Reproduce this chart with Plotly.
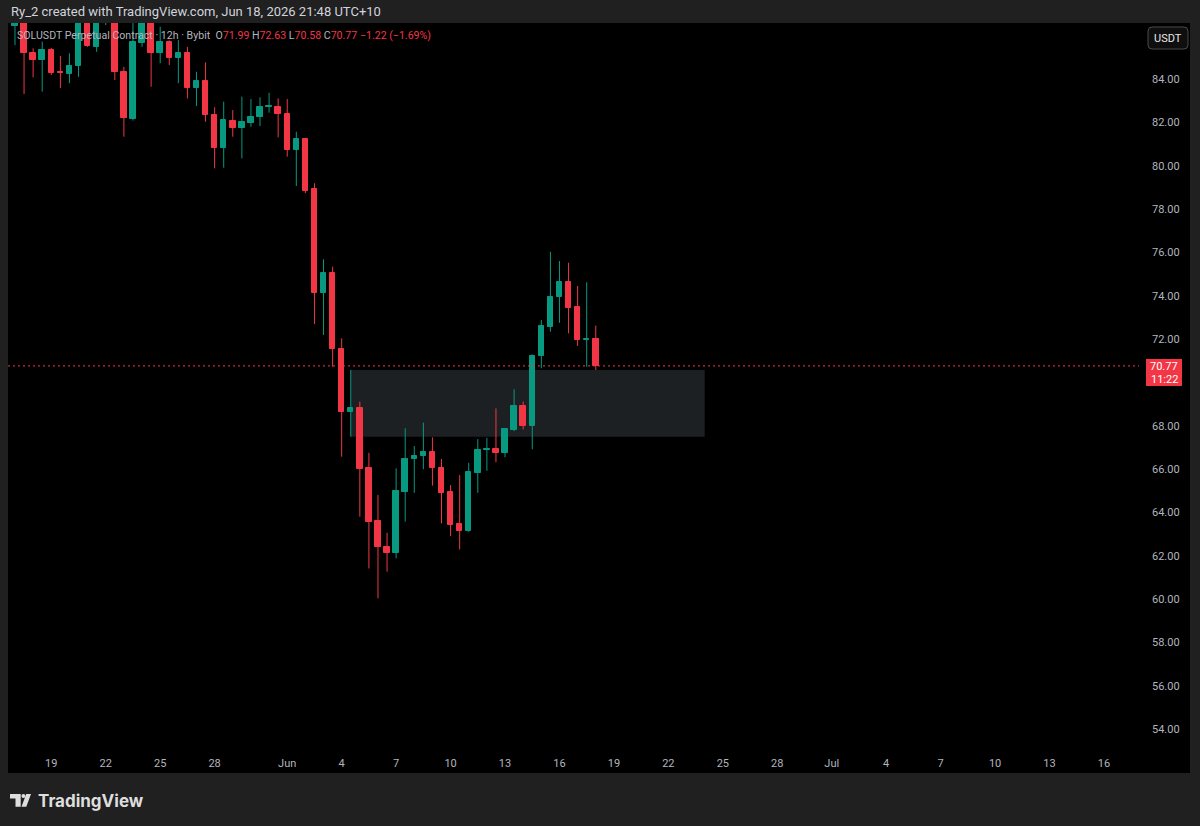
import plotly.graph_objects as go
import pandas as pd

# ---------------- data ----------------
first_bar = "2026-05-17 10:00"   # 12h bars (local time UTC+10)
bar_hours = 12

opens = [86.45, 87.20, 85.20, 84.89, 85.35, 84.35, 84.25, 84.61, 86.90, 85.50,
         87.40, 87.80, 84.35, 82.17, 85.66, 87.00, 85.20, 85.74, 84.97, 85.20,
         83.61, 83.92, 82.35, 80.81, 82.09, 81.74, 82.00, 82.27, 82.71, 82.71,
         82.40, 80.74, 81.23, 78.92, 74.15, 75.07, 71.55, 68.63, 68.81, 66.04,
         63.61, 62.42, 62.14, 64.96, 66.46, 66.61, 66.78, 66.07, 64.96, 63.45,
         63.15, 65.84, 66.90, 66.92, 66.76, 67.81, 68.92, 68.01, 71.24, 72.55,
         73.94, 74.66, 73.47, 71.96, 71.99]
highs = [87.30, 87.60, 85.43, 85.74, 85.45, 85.08, 85.20, 87.30, 87.20, 87.80,
         88.20, 88.00, 84.58, 86.90, 87.50, 87.30, 86.43, 85.80, 85.81, 85.50,
         84.35, 84.78, 82.71, 82.97, 82.58, 83.20, 83.09, 83.17, 83.38, 83.12,
         83.09, 81.58, 81.30, 79.20, 75.69, 75.35, 72.04, 70.58, 69.12, 66.76,
         64.81, 63.07, 66.04, 67.89, 67.07, 68.15, 67.47, 66.47, 65.27, 65.73,
         66.30, 67.39, 67.45, 68.81, 67.90, 69.69, 69.12, 71.30, 72.89, 76.04,
         75.61, 75.53, 74.46, 74.63, 72.63]
lows = [85.58, 83.32, 84.09, 83.43, 84.20, 83.60, 83.82, 84.12, 85.50, 85.27,
        86.50, 83.97, 81.35, 82.10, 85.50, 83.66, 84.74, 84.66, 83.82, 83.12,
        82.77, 82.04, 79.89, 79.92, 81.35, 80.35, 81.81, 81.84, 82.46, 81.32,
        80.43, 79.07, 78.74, 72.70, 72.20, 70.73, 66.58, 67.50, 63.81, 61.42,
        60.04, 61.27, 61.88, 63.58, 64.91, 66.00, 65.24, 63.50, 62.91, 62.30,
        63.11, 64.91, 65.93, 66.32, 66.55, 67.76, 67.84, 66.92, 70.66, 72.35,
        72.76, 72.27, 71.69, 70.73, 70.58]
closes = [87.00, 85.20, 84.89, 85.35, 84.28, 84.28, 84.63, 86.90, 85.54, 87.40,
          87.80, 84.35, 82.20, 85.74, 87.00, 85.20, 85.74, 84.97, 85.20, 83.61,
          83.92, 82.35, 80.81, 82.12, 81.74, 82.02, 82.27, 82.71, 82.75, 82.40,
          80.74, 81.23, 78.86, 74.15, 75.04, 71.53, 68.65, 68.81, 65.99, 63.58,
          62.39, 62.14, 64.99, 66.46, 66.62, 66.78, 66.04, 64.91, 63.42, 63.15,
          65.86, 66.89, 66.95, 66.76, 67.86, 68.92, 68.00, 71.24, 72.61, 73.96,
          74.66, 73.46, 71.96, 71.99, 70.77]

tick_dates = ["2026-05-19 10:00", "2026-05-22 10:00", "2026-05-25 10:00", "2026-05-28 10:00",
              "2026-06-01 10:00", "2026-06-04 10:00", "2026-06-07 10:00", "2026-06-10 10:00",
              "2026-06-13 10:00", "2026-06-16 10:00", "2026-06-19 10:00", "2026-06-22 10:00",
              "2026-06-25 10:00", "2026-06-28 10:00", "2026-07-01 10:00", "2026-07-04 10:00",
              "2026-07-07 10:00", "2026-07-10 10:00", "2026-07-13 10:00", "2026-07-16 10:00"]
tick_labels = ["19", "22", "25", "28", "Jun", "4", "7", "10", "13", "16",
               "19", "22", "25", "28", "Jul", "4", "7", "10", "13", "16"]
# 70.00 is hidden behind the last-price label in the reference
price_ticks = [54, 56, 58, 60, 62, 64, 66, 68, 72, 74, 76, 78, 80, 82, 84]

zone_start = "2026-06-04 22:00"
zone_end = "2026-06-24 10:00"
zone_low = 67.50
zone_high = 70.58

last_price = 70.77
change = -1.22
change_pct = -1.69
countdown = "11:22"
header_text = "Ry_2 created with TradingView.com, Jun 18, 2026 21:48 UTC+10"

# ---------------- styling ----------------
UP = "#089981"
DOWN = "#f23645"
W, H = 1200, 826
PL, PR, PT, PB = 8, 1139, 23, 748  # plot area in pixels

def fx(px):
    return (px - PL) / (PR - PL)

def fy(py):
    return (PB - py) / (PB - PT)

times = pd.date_range(first_bar, periods=len(opens), freq=f"{bar_hours}h")
step = pd.Timedelta(hours=bar_hours)
colors = [UP if c >= o else DOWN for o, c in zip(opens, closes)]

fig = go.Figure()

# wicks
for col in (UP, DOWN):
    xs, ys = [], []
    for t, hi, lo, c in zip(times, highs, lows, colors):
        if c == col:
            xs += [t, t, None]
            ys += [lo, hi, None]
    fig.add_trace(go.Scatter(x=xs, y=ys, mode="lines",
                             line=dict(color=col, width=1),
                             hoverinfo="skip", showlegend=False))

# bodies
fig.add_trace(go.Bar(
    x=times,
    base=[min(o, c) for o, c in zip(opens, closes)],
    y=[abs(c - o) for o, c in zip(opens, closes)],
    width=step.total_seconds() * 1000 * 0.6,
    marker=dict(color=colors, line=dict(color=colors, width=1)),
    hoverinfo="skip", showlegend=False,
))

x_left = times[0] - step * 0.77
x_right = times[0] + step * 123.86

shapes = []
# black chart panel (includes price & time scales)
shapes.append(dict(type="rect", xref="paper", yref="paper",
                   x0=fx(8), x1=fx(1190), y0=fy(773), y1=fy(23),
                   fillcolor="#000000", line=dict(width=0), layer="below"))
# zone rectangle
shapes.append(dict(type="rect", xref="x", yref="y",
                   x0=zone_start, x1=zone_end, y0=zone_low, y1=zone_high,
                   fillcolor="#1d2023", line=dict(width=0), layer="below"))
# last price dotted line
shapes.append(dict(type="line", xref="paper", yref="y",
                   x0=0, x1=1, y0=last_price, y1=last_price,
                   line=dict(color=DOWN, width=1, dash="2px,3px"), layer="above"))
# last price label box
shapes.append(dict(type="rect", xref="paper", yref="paper",
                   x0=fx(1146), x1=fx(1182), y0=fy(386), y1=fy(359),
                   fillcolor=DOWN, line=dict(width=0), layer="above"))
# USDT button
shapes.append(dict(type="path", xref="paper", yref="paper",
                   path=("M {a},{b} L {c},{b} Q {d},{b} {d},{e} L {d},{f} Q {d},{g} {c},{g} "
                         "L {a},{g} Q {h},{g} {h},{f} L {h},{e} Q {h},{b} {a},{b} Z").format(
                       a=fx(1152), c=fx(1184), d=fx(1188), h=fx(1148),
                       b=fy(27), e=fy(31), f=fy(45), g=fy(49)),
                   fillcolor="#0f0f0f", line=dict(color="#4a4a4a", width=1), layer="above"))
# TradingView logo glyph
LOGO = "#dedede"
shapes.append(dict(type="path", xref="paper", yref="paper",
                   path=f"M {fx(10)},{fy(794)} L {fx(20.7)},{fy(794)} L {fx(20.7)},{fy(806.7)} "
                        f"L {fx(15.5)},{fy(806.7)} L {fx(15.5)},{fy(798.6)} L {fx(10)},{fy(798.6)} Z",
                   fillcolor=LOGO, line=dict(width=0), layer="above"))
shapes.append(dict(type="circle", xref="paper", yref="paper",
                   x0=fx(21.4), x1=fx(25.4), y0=fy(798), y1=fy(794),
                   fillcolor=LOGO, line=dict(width=0), layer="above"))
shapes.append(dict(type="path", xref="paper", yref="paper",
                   path=f"M {fx(26.2)},{fy(794)} L {fx(31)},{fy(794)} L {fx(26.3)},{fy(806.7)} "
                        f"L {fx(21.5)},{fy(806.7)} Z",
                   fillcolor=LOGO, line=dict(width=0), layer="above"))

FONT = "Roboto, 'Open Sans', sans-serif"
NARROW = "'Liberation Sans Narrow', Roboto, sans-serif"
RED = "#f23645"
legend_html = (
    "SOLUSDT Perpetual Contract · 12h · Bybit  "
    f"O<span style='color:{RED}'>{opens[-1]:.2f}</span> "
    f"H<span style='color:{RED}'>{highs[-1]:.2f}</span> "
    f"L<span style='color:{RED}'>{lows[-1]:.2f}</span> "
    f"C<span style='color:{RED}'>{closes[-1]:.2f}</span> "
    f"<span style='color:{RED}'>−{abs(change):.2f} (−{abs(change_pct):.2f}%)</span>"
)

annotations = [
    dict(text=header_text, xref="paper", yref="paper", x=fx(9), y=fy(12),
         xanchor="left", yanchor="middle", showarrow=False,
         font=dict(family=NARROW, size=13, color="#d1d4dc")),
    dict(text=legend_html, xref="paper", yref="paper", x=fx(15), y=fy(36),
         xanchor="left", yanchor="middle", showarrow=False,
         font=dict(family=FONT, size=10.6, color="#b2b5be")),
    dict(text=f"{last_price:.2f}", xref="paper", yref="paper",
         x=fx(1164), y=fy(366), xanchor="center", yanchor="middle",
         showarrow=False, font=dict(family=FONT, size=11, color="#ffffff")),
    dict(text=countdown, xref="paper", yref="paper",
         x=fx(1164), y=fy(379), xanchor="center", yanchor="middle",
         showarrow=False, font=dict(family=FONT, size=11, color="#ffffff")),
    dict(text="USDT", xref="paper", yref="paper", x=fx(1168), y=fy(38),
         xanchor="center", yanchor="middle", showarrow=False,
         font=dict(family=FONT, size=11, color="#e8e8e8")),
    dict(text="<b>TradingView</b>", xref="paper", yref="paper", x=fx(36), y=fy(800.5),
         xanchor="left", yanchor="middle", showarrow=False,
         font=dict(family="Inter, Roboto, sans-serif", size=17, color=LOGO)),
]

fig.update_layout(
    width=W, height=H,
    margin=dict(l=PL, r=W - PR, t=PT, b=H - PB, pad=0),
    paper_bgcolor="#202020",
    plot_bgcolor="#000000",
    shapes=shapes,
    annotations=annotations,
    bargap=0,
    showlegend=False,
    xaxis=dict(type="date", range=[x_left, x_right],
               tickmode="array", tickvals=tick_dates, ticktext=tick_labels,
               showgrid=False, zeroline=False, showline=False, ticks="",
               tickfont=dict(family=FONT, size=11, color="#b2b5be"),
               ticklabelstandoff=7,
               rangeslider=dict(visible=False), fixedrange=True),
    yaxis=dict(side="right", range=[53.13, 86.60],
               tickmode="array", tickvals=price_ticks,
               ticktext=[f"{p:.2f}" for p in price_ticks],
               showgrid=False, zeroline=False, showline=False, ticks="",
               ticklabelstandoff=12,
               tickfont=dict(family=FONT, size=11, color="#b2b5be"),
               fixedrange=True),
)

fig.write_html("out.html")
